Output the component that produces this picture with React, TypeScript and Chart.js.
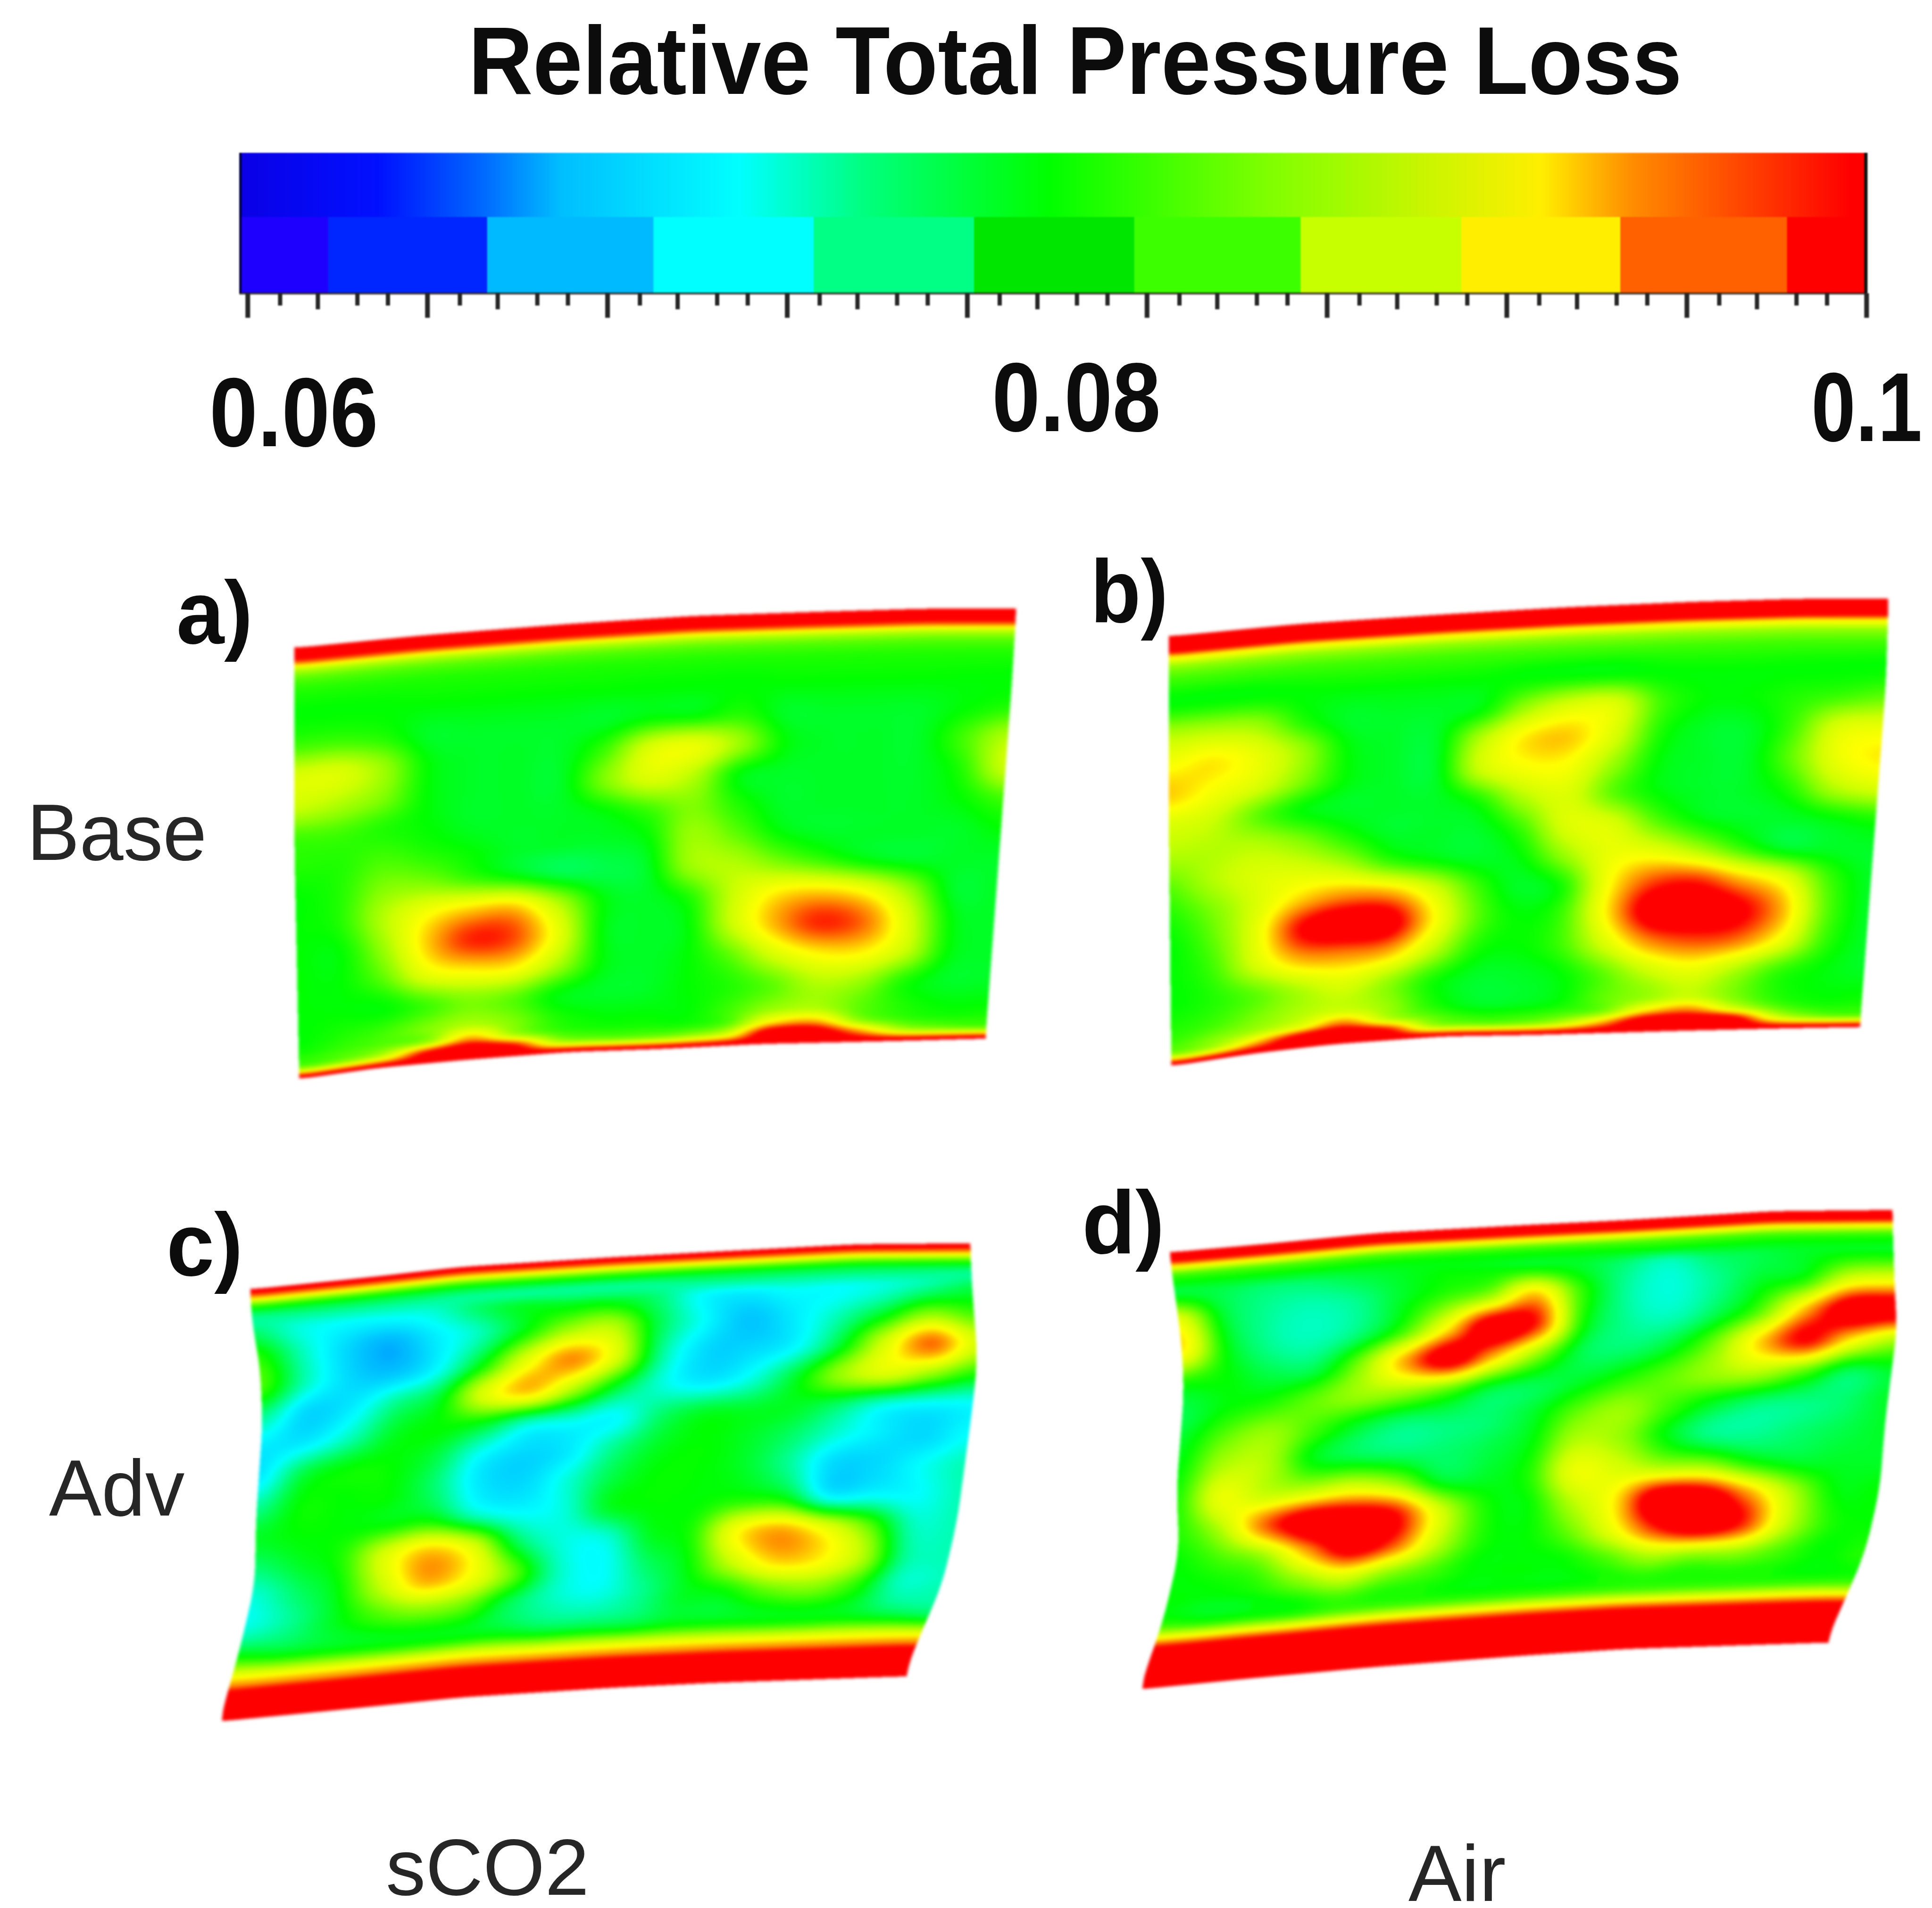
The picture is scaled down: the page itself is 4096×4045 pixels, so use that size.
import React, { useEffect, useRef } from "react";
import { Chart, registerables } from "chart.js";

Chart.register(...registerables);

const SCALE = 4096 / 4242;
const SHRUNK = 4096 / 1568;

// ---------- colour bar ----------
const barMin = 0.05979;
const barMax = 0.1;
const majorTicks = [0.06, 0.06444, 0.06889, 0.07333, 0.07778, 0.08222, 0.08667, 0.09111, 0.09556, 0.1];
const minorFractions = [0.18, 0.39, 0.61, 0.78];
const bandEdges = [0.05979, 0.06198, 0.06591, 0.07002, 0.07398, 0.07794, 0.0819, 0.08601, 0.08998, 0.09391, 0.09803, 0.1];
const bandColors = ["#1e00ff", "#0026ff", "#00baff", "#00ffff", "#00ff84", "#00e600", "#3cff00", "#c8ff00", "#ffee00", "#ff6000", "#ff0000"];
const gradientValues = [0.05979, 0.06322, 0.0657, 0.06773, 0.07215, 0.07519, 0.07977, 0.08525, 0.09195, 0.09422, 0.09709, 0.0996, 0.1];
const gradientColors = ["#0a00e6", "#0010ff", "#0064ff", "#00beff", "#00ffff", "#00ff80", "#00ff00", "#80ff00", "#ffee00", "#ff8c00", "#ff4000", "#ff0000", "#ff0000"];

// ---------- field colours (value x 1000) ----------
const fieldValues = [60, 66, 68, 72, 75.5, 79, 83, 86, 89.5, 93.5, 97, 100];
const fieldColors = [
  [0, 0, 255], [0, 100, 255], [0, 180, 255], [0, 255, 255], [0, 255, 128], [0, 255, 0],
  [128, 255, 0], [205, 255, 0], [255, 255, 0], [255, 128, 0], [255, 0, 0], [255, 0, 0],
];

// spanwise (row) stations of the value tables
const rowStations = [0, 0.02, 0.035, 0.05, 0.07, 0.1, 0.16, 0.23, 0.3, 0.37, 0.44, 0.51, 0.58, 0.65, 0.72, 0.79, 0.86, 0.92, 0.95, 0.975, 1];

const flat = (n: number) => [n, n, n, n, n, n, n, n, n, n, n, n, n, n, n, n, n];

const fieldA = [
  flat(100), flat(99), flat(94), flat(86), flat(82), flat(80), flat(79),
  [81, 81, 80, 78, 78, 78, 78, 78, 79, 79, 80, 78, 78, 78, 78, 79, 80],
  [87, 87, 84, 79, 78, 78, 78, 81, 87, 88, 84, 79, 78, 78, 78, 81, 85],
  [86, 85, 83, 79, 78, 78, 78, 83, 87, 85, 79, 78, 78, 78, 78, 80, 86],
  [81, 81, 80, 79, 78, 78, 78, 79, 81, 83, 80, 78, 78, 78, 78, 79, 81],
  [80, 80, 81, 80, 79, 78, 78, 78, 79, 84, 82, 79, 78, 78, 78, 78, 79],
  [79, 80, 83, 83, 81, 79, 77, 77, 78, 84, 85, 83, 81, 79, 78, 78, 78],
  [79, 80, 85, 89, 91, 91, 85, 79, 78, 80, 86, 90, 91, 89, 84, 78, 78],
  [79, 79, 84, 91, 96, 95, 88, 79, 78, 79, 86, 92, 96, 94, 87, 79, 78],
  [79, 79, 82, 88, 90, 90, 85, 79, 78, 79, 82, 87, 90, 90, 86, 79, 78],
  [79, 79, 79, 81, 83, 82, 79, 78, 78, 79, 80, 82, 85, 84, 80, 78, 78],
  [79, 80, 81, 83, 85, 83, 80, 79, 79, 79, 81, 84, 85, 82, 80, 79, 79],
  [80, 81, 82, 84, 92, 85, 81, 80, 80, 80, 82, 90, 92, 84, 81, 80, 80],
  [83, 84, 87, 97, 100, 97, 86, 84, 84, 85, 88, 100, 100, 93, 86, 84, 83],
  flat(100),
];

const fieldB = [
  flat(100), flat(100), flat(98), flat(90), flat(84), flat(81), flat(79),
  [85, 85, 84, 80, 78, 78, 78, 79, 84, 87, 87, 81, 79, 79, 80, 81, 82],
  [89, 90, 88, 84, 79, 78, 78, 85, 90, 91, 87, 80, 78, 78, 81, 87, 88],
  [91, 89, 87, 83, 79, 78, 78, 86, 89, 89, 84, 79, 78, 78, 82, 88, 90],
  [87, 86, 82, 79, 78, 78, 78, 80, 85, 87, 82, 79, 78, 78, 80, 85, 87],
  [85, 85, 85, 83, 80, 78, 78, 78, 81, 87, 87, 82, 79, 78, 78, 79, 80],
  [82, 85, 87, 87, 85, 81, 79, 78, 79, 84, 88, 88, 85, 81, 78, 78, 78],
  [80, 83, 87, 91, 93, 92, 87, 81, 78, 80, 89, 95, 96, 92, 88, 81, 78],
  [79, 82, 88, 97, 100, 99, 90, 82, 79, 81, 90, 99, 100, 98, 92, 82, 78],
  [79, 81, 87, 92, 93, 92, 86, 80, 79, 81, 87, 93, 95, 94, 89, 81, 78],
  [79, 80, 82, 85, 87, 84, 80, 78, 78, 79, 82, 86, 88, 85, 81, 79, 78],
  [80, 81, 83, 85, 86, 84, 80, 78, 78, 79, 82, 84, 86, 83, 80, 79, 79],
  [81, 83, 85, 88, 93, 86, 82, 80, 80, 81, 83, 90, 93, 87, 82, 80, 80],
  [84, 86, 92, 99, 100, 97, 86, 84, 84, 86, 92, 100, 100, 99, 88, 84, 83],
  flat(100),
];

const fieldC = [
  flat(100), flat(92), flat(83), flat(78), flat(75),
  [76, 73, 72, 72, 73, 76, 78, 78, 78, 76, 72, 71, 72, 72, 73, 75, 77],
  [80, 74, 70, 68, 71, 74, 79, 84, 85, 77, 72, 69, 71, 74, 78, 83, 81],
  [81, 74, 70, 69, 72, 79, 88, 93, 87, 75, 70, 70, 72, 78, 87, 94, 87],
  [75, 70, 71, 75, 78, 87, 91, 85, 78, 73, 71, 73, 78, 84, 87, 84, 80],
  [71, 71, 74, 78, 79, 78, 74, 73, 72, 76, 78, 78, 78, 76, 73, 72, 72],
  [71, 77, 79, 79, 77, 72, 70, 71, 75, 78, 79, 78, 76, 73, 71, 70, 72],
  [75, 79, 79, 79, 76, 71, 70, 73, 77, 79, 79, 78, 75, 70, 70, 72, 74],
  [78, 79, 79, 79, 79, 74, 72, 73, 78, 79, 79, 80, 79, 72, 72, 72, 74],
  [76, 78, 80, 87, 91, 87, 77, 73, 73, 78, 80, 89, 92, 88, 82, 74, 74],
  [73, 76, 79, 86, 92, 89, 82, 74, 72, 76, 79, 86, 91, 90, 85, 75, 74],
  [73, 75, 78, 81, 83, 82, 77, 74, 73, 75, 78, 79, 82, 83, 80, 74, 74],
  [80, 79, 79, 79, 79, 79, 79, 78, 78, 78, 79, 79, 79, 79, 79, 78, 77],
  flat(93), flat(100), flat(100), flat(100),
];

const fieldD = [
  flat(100), flat(97), flat(89), flat(82), flat(79),
  [78, 77, 76, 76, 77, 78, 79, 79, 79, 78, 76, 74, 76, 77, 78, 79, 79],
  [88, 78, 75, 74, 75, 78, 81, 84, 91, 81, 75, 73, 75, 78, 80, 87, 88],
  [90, 79, 75, 74, 76, 81, 90, 100, 96, 80, 75, 74, 77, 82, 92, 100, 100],
  [80, 79, 77, 77, 83, 92, 99, 92, 84, 77, 76, 78, 83, 91, 97, 90, 85],
  [77, 79, 80, 82, 84, 84, 82, 78, 77, 78, 80, 82, 84, 85, 82, 77, 78],
  [78, 82, 84, 81, 78, 76, 76, 76, 78, 82, 84, 81, 78, 76, 75.5, 76, 78],
  [79, 85, 85, 79, 77, 76, 76, 77, 79, 85, 84, 79, 75.5, 75, 76, 77, 78],
  [80, 88, 86, 86, 87, 84, 78, 78, 80, 88, 87, 85, 84, 80, 78, 78, 78],
  [80, 85, 94, 100, 100, 97, 87, 80, 79, 85, 90, 100, 100, 93, 85, 79, 79],
  [79, 81, 84, 92, 99, 95, 86, 80, 79, 82, 88, 96, 100, 96, 86, 80, 79],
  [79, 79, 80, 83, 86, 83, 81, 79, 79, 79, 81, 84, 83, 83, 81, 79, 80],
  [81, 80, 80, 80, 81, 81, 81, 81, 81, 81, 81, 81, 81, 81, 81, 81, 81],
  flat(100), flat(100), flat(100), flat(100),
];

// ---------- panel outlines, in the axis units of each panel ----------
const outlineA = {
  top: [[25, 175], [300, 135], [600, 100], [860, 75], [1120, 62], [1350, 52], [1540, 52]],
  bottom: [[35, 1525], [200, 1490], [380, 1465], [600, 1440], [800, 1430], [1000, 1415], [1300, 1405], [1475, 1398]],
  left: [[25, 175], [25, 800], [35, 1525]],
  right: [[1540, 52], [1530, 300], [1500, 900], [1475, 1398]],
};
const outlineB = {
  top: [[25, 155], [300, 115], [600, 85], [860, 62], [1120, 45], [1350, 35], [1535, 35]],
  bottom: [[30, 1525], [200, 1485], [370, 1455], [600, 1430], [800, 1425], [1100, 1412], [1300, 1405], [1475, 1400]],
  left: [[25, 155], [25, 800], [30, 1525]],
  right: [[1535, 35], [1530, 300], [1500, 900], [1475, 1400]],
};
const outlineC = {
  top: [[80, 185], [300, 150], [500, 115], [800, 85], [1000, 68], [1280, 45], [1505, 42]],
  bottom: [[20, 1525], [250, 1490], [500, 1450], [800, 1420], [1000, 1405], [1375, 1385]],
  left: [[80, 185], [85, 300], [100, 420], [105, 600], [92, 900], [90, 1100], [60, 1300], [20, 1525]],
  right: [[1505, 42], [1510, 200], [1520, 400], [1510, 550], [1480, 900], [1450, 1100], [1400, 1280], [1375, 1385]],
};
const outlineD = {
  top: [[80, 170], [300, 140], [500, 110], [800, 85], [1000, 70], [1300, 42], [1545, 38]],
  bottom: [[20, 1525], [250, 1490], [500, 1455], [800, 1420], [1000, 1400], [1410, 1380]],
  left: [[80, 170], [90, 280], [105, 450], [110, 600], [95, 900], [100, 1100], [70, 1300], [20, 1525]],
  right: [[1545, 38], [1550, 300], [1555, 400], [1530, 700], [1520, 900], [1490, 1100], [1445, 1260], [1410, 1380]],
};

const panels = [
  { name: "a", field: fieldA, outline: outlineA, rect: [620, 1300, 1640, 1100] },
  { name: "b", field: fieldB, outline: outlineB, rect: [2540, 1290, 1640, 1080] },
  { name: "c", field: fieldC, outline: outlineC, rect: [460, 2700, 1740, 1110] },
  { name: "d", field: fieldD, outline: outlineD, rect: [2480, 2630, 1700, 1110] },
];

// ---------- text ----------
const labels = [
  { text: "Relative Total Pressure Loss", x0: 380, x1: 1365, base: 76, size: 205, bold: true },
  { text: "0.06", x0: 170, x1: 307, base: 362, size: 208, bold: true },
  { text: "0.08", x0: 805, x1: 942, base: 350, size: 208, bold: true },
  { text: "0.1", x0: 1470, x1: 1560, base: 358, size: 208, bold: true },
  { text: "a)", x0: 143, x1: 205, base: 522, size: 190, bold: true },
  { text: "b)", x0: 885, x1: 948, base: 505, size: 190, bold: true },
  { text: "c)", x0: 135, x1: 197, base: 1035, size: 190, bold: true },
  { text: "d)", x0: 878, x1: 945, base: 1017, size: 190, bold: true },
  { text: "Base", x0: 22, x1: 168, base: 698, size: 168, bold: false },
  { text: "Adv", x0: 40, x1: 150, base: 1230, size: 168, bold: false },
  { text: "sCO2", x0: 313, x1: 478, base: 1538, size: 168, bold: false },
  { text: "Air", x0: 1143, x1: 1222, base: 1543, size: 168, bold: false },
];

// ---------- helpers ----------
const along = (pts: number[][], a: number, ia: number, ib: number) => {
  if (a <= pts[0][ia]) return pts[0][ib];
  for (let i = 1; i < pts.length; i++) {
    if (a <= pts[i][ia]) {
      const t = (a - pts[i - 1][ia]) / (pts[i][ia] - pts[i - 1][ia]);
      return pts[i - 1][ib] + t * (pts[i][ib] - pts[i - 1][ib]);
    }
  }
  return pts[pts.length - 1][ib];
};

// soften the corners of an outline sampled once per pixel
const soften = (src: Float32Array, reach: number) => {
  const out = new Float32Array(src.length);
  for (let i = 0; i < src.length; i++) {
    let sum = 0, n = 0;
    for (let k = Math.max(0, i - reach); k <= Math.min(src.length - 1, i + reach); k += 4) {
      sum += src[k];
      n++;
    }
    out[i] = sum / n;
  }
  return out;
};

const buildLut = () => {
  const lut = new Uint8ClampedArray(401 * 3);
  for (let i = 0; i <= 400; i++) {
    const val = 60 + i / 10;
    let k = 0;
    while (k < fieldValues.length - 2 && val > fieldValues[k + 1]) k++;
    const t = Math.min(1, Math.max(0, (val - fieldValues[k]) / (fieldValues[k + 1] - fieldValues[k])));
    for (let c = 0; c < 3; c++) lut[i * 3 + c] = fieldColors[k][c] + t * (fieldColors[k + 1][c] - fieldColors[k][c]);
  }
  return lut;
};

const rowLut = (() => {
  const n = 2001;
  const out = new Float32Array(n);
  for (let i = 0; i < n; i++) {
    const v = i / (n - 1);
    let k = 0;
    while (k < rowStations.length - 2 && v > rowStations[k + 1]) k++;
    out[i] = k + (v - rowStations[k]) / (rowStations[k + 1] - rowStations[k]);
  }
  return out;
})();

const cr = (a: number, b: number, c: number, d: number, t: number) =>
  0.5 * (2 * b + (c - a) * t + (2 * a - 5 * b + 4 * c - d) * t * t + (3 * b - a - 3 * c + d) * t * t * t);

const fieldPlugin = {
  id: "contourField",
  beforeDatasetsDraw(chart: any) {
    const ds = chart.data.datasets[0];
    const { field, outline } = ds;
    if (!field) return;
    const area = chart.chartArea;
    const W = Math.round(area.right - area.left);
    const H = Math.round(area.bottom - area.top);
    const off = document.createElement("canvas");
    off.width = W;
    off.height = H;
    const octx = off.getContext("2d")!;
    const img = octx.createImageData(W, H);
    const lut = buildLut();
    const xs = new Float32Array(W);
    let tops = new Float32Array(W), bots = new Float32Array(W);
    for (let i = 0; i < W; i++) {
      const x = chart.scales.x.getValueForPixel(area.left + i + 0.5);
      xs[i] = x;
      tops[i] = along(outline.top, x, 0, 1);
      bots[i] = along(outline.bottom, x, 0, 1);
    }
    tops = soften(tops, 40);
    bots = soften(bots, 40);
    const ysv = new Float32Array(H);
    let lefts = new Float32Array(H), rights = new Float32Array(H);
    for (let j = 0; j < H; j++) {
      const y = chart.scales.y.getValueForPixel(area.top + j + 0.5);
      ysv[j] = y;
      lefts[j] = along(outline.left, y, 1, 0);
      rights[j] = along(outline.right, y, 1, 0);
    }
    lefts = soften(lefts, 50);
    rights = soften(rights, 50);
    const nr = field.length, nc = field[0].length;
    const tmp = [0, 0, 0, 0];
    for (let j = 0; j < H; j++) {
      const y = ysv[j];
      const L = lefts[j];
      const R = rights[j];
      for (let i = 0; i < W; i++) {
        const x = xs[i];
        if (x < L || x > R || y < tops[i] || y > bots[i]) continue;
        const u = (x - L) / (R - L);
        const v = (y - tops[i]) / (bots[i] - tops[i]);
        const fu = u * (nc - 1);
        const fv = rowLut[Math.round(v * 2000)];
        const iu = Math.min(nc - 2, Math.floor(fu));
        const iv = Math.min(nr - 2, Math.floor(fv));
        const tu = fu - iu, tv = fv - iv;
        let lo = 1000, hi = 0;
        for (let m = -1; m <= 2; m++) {
          const row = field[Math.max(0, Math.min(nr - 1, iv + m))];
          const a = row[Math.max(0, iu - 1)], b = row[iu], c = row[iu + 1], d = row[Math.min(nc - 1, iu + 2)];
          tmp[m + 1] = cr(a, b, c, d, tu);
          if (m === 0 || m === 1) {
            lo = Math.min(lo, b, c);
            hi = Math.max(hi, b, c);
          }
        }
        let val = cr(tmp[0], tmp[1], tmp[2], tmp[3], tv);
        val = Math.max(lo - 1.2, Math.min(hi + 1.2, val));
        const li = Math.max(0, Math.min(400, Math.round((val - 60) * 10))) * 3;
        const p = (j * W + i) * 4;
        img.data[p] = lut[li];
        img.data[p + 1] = lut[li + 1];
        img.data[p + 2] = lut[li + 2];
        img.data[p + 3] = 255;
      }
    }
    octx.putImageData(img, 0, 0);
    const ctx = chart.ctx;
    ctx.save();
    ctx.filter = "blur(3px)";
    ctx.drawImage(off, area.left, area.top);
    ctx.restore();
  },
};

const tickPlugin = {
  id: "colorbarTicks",
  afterDraw(chart: any) {
    const { ctx, chartArea: a, scales } = chart;
    const px = (v: number) => scales.x.getPixelForValue(v);
    const tick = (v: number, len: number, w: number) => {
      ctx.fillRect(px(v) - w / 2, a.bottom, w, len);
    };
    ctx.save();
    ctx.fillStyle = "rgba(0,0,30,0.85)";
    ctx.fillRect(a.left, a.top, 5, a.bottom - a.top);
    ctx.fillStyle = "rgba(20,10,0,0.65)";
    ctx.fillRect(a.left, a.bottom - 2, a.right - a.left, 5);
    ctx.fillStyle = "#111";
    ctx.fillRect(a.right - 5, a.top, 7, a.bottom - a.top);
    ctx.fillStyle = "#262626";
    majorTicks.forEach((m, i) => {
      tick(m, 52, 10);
      if (i < majorTicks.length - 1) {
        const step = majorTicks[i + 1] - m;
        minorFractions.forEach((f, k) => tick(m + f * step, k === 1 ? 34 : 26, 9));
      }
    });
    ctx.restore();
  },
};

const PanelChart = ({ panel }: { panel: (typeof panels)[number] }) => {
  const ref = useRef<HTMLCanvasElement>(null);
  const [rx, ry, rw, rh] = panel.rect;
  const width = Math.round(rw * SCALE);
  const height = Math.round(rh * SCALE);
  useEffect(() => {
    const { field, outline } = panel;
    const nodes: any[] = [];
    field.forEach((row, j) =>
      row.forEach((value, i) => {
        const u = i / (row.length - 1);
        const xTop = along(outline.top, u * 1500, 0, 1);
        const xBot = along(outline.bottom, u * 1500, 0, 1);
        const y = xTop + rowStations[j] * (xBot - xTop);
        const L = along(outline.left, y, 1, 0);
        const R = along(outline.right, y, 1, 0);
        nodes.push({ x: L + u * (R - L), y, value });
      })
    );
    const chart = new Chart(ref.current!, {
      type: "scatter",
      data: { datasets: [{ label: panel.name, data: nodes, pointRadius: 0, field, outline } as any] },
      options: {
        animation: false,
        responsive: false,
        devicePixelRatio: 1,
        layout: { padding: 0 },
        events: [],
        plugins: { legend: { display: false }, tooltip: { enabled: false } },
        scales: {
          x: { type: "linear", min: 0, max: 1568, display: false },
          y: { type: "linear", min: 0, max: 1568, reverse: true, display: false },
        },
      },
      plugins: [fieldPlugin],
    } as any);
    return () => chart.destroy();
  }, [panel]);
  return (
    <canvas
      ref={ref}
      width={width}
      height={height}
      style={{ position: "absolute", left: rx * SCALE, top: ry * SCALE, width, height }}
    />
  );
};

const ColorBar = () => {
  const ref = useRef<HTMLCanvasElement>(null);
  const left = 505 * SCALE, top = 310;
  const width = Math.round(3620 * SCALE), height = 390;
  useEffect(() => {
    const padLeft = 20 * SCALE;
    const padRight = width - (4096 - 505 + 2) * SCALE;
    const gradientFill = (ctx: any) => {
      const g = ctx.chart.ctx.createLinearGradient(padLeft, 0, width - padRight, 0);
      gradientValues.forEach((v, i) => g.addColorStop((v - barMin) / (barMax - barMin), gradientColors[i]));
      return g;
    };
    const smoothRowThickness = 52 * SHRUNK;
    const steppedRowThickness = 62 * SHRUNK;
    const datasets: any[] = [
      { label: "continuous", data: [{ x: [barMin, barMax], y: 26 }], backgroundColor: gradientFill, barThickness: smoothRowThickness },
      ...bandColors.map((color, i) => ({
        label: "band " + i,
        data: [{ x: [bandEdges[i], bandEdges[i + 1]], y: 83 }],
        backgroundColor: color,
        barThickness: steppedRowThickness,
      })),
    ];
    const chart = new Chart(ref.current!, {
      type: "bar",
      data: { datasets },
      options: {
        indexAxis: "y",
        animation: false,
        responsive: false,
        devicePixelRatio: 1,
        events: [],
        layout: {
          padding: {
            left: padLeft,
            right: padRight,
            top: 124 * SHRUNK - top,
            bottom: height - (238 * SHRUNK - top),
          },
        },
        datasets: { bar: { grouped: false, borderWidth: 0 } },
        plugins: { legend: { display: false }, tooltip: { enabled: false } },
        scales: {
          x: { type: "linear", min: barMin, max: barMax, display: false },
          y: { type: "linear", min: 0, max: 114, reverse: true, offset: false, display: false },
        },
      },
      plugins: [tickPlugin],
    } as any);
    return () => chart.destroy();
  }, []);
  return (
    <canvas
      ref={ref}
      width={width}
      height={height}
      style={{ position: "absolute", left, top, width, height, filter: "blur(1.5px)" }}
    />
  );
};

const measurer = document.createElement("canvas").getContext("2d")!;

const Label = ({ item }: { item: (typeof labels)[number] }) => {
  const font = `${item.bold ? "bold " : ""}${item.size}px "Liberation Sans"`;
  measurer.font = font;
  const natural = measurer.measureText(item.text).width;
  const target = (item.x1 - item.x0) * SHRUNK;
  return (
    <div
      style={{
        position: "absolute",
        left: item.x0 * SHRUNK,
        top: item.base * SHRUNK - 0.8465 * item.size,
        font,
        lineHeight: 1,
        color: item.bold ? "#0c0c0c" : "#262626",
        whiteSpace: "nowrap",
        transformOrigin: "0 0",
        transform: `scaleX(${target / natural})`,
      }}
    >
      {item.text}
    </div>
  );
};

export default function App() {
  useEffect(() => {
    document.body.style.margin = "0";
    document.body.style.background = "#fff";
  }, []);
  return (
    <div style={{ position: "absolute", left: 0, top: 0, width: 4096, height: 4045, overflow: "hidden", background: "#fff" }}>
      <ColorBar />
      {panels.map((p) => (
        <PanelChart key={p.name} panel={p} />
      ))}
      {labels.map((l) => (
        <Label key={l.text} item={l} />
      ))}
    </div>
  );
}
